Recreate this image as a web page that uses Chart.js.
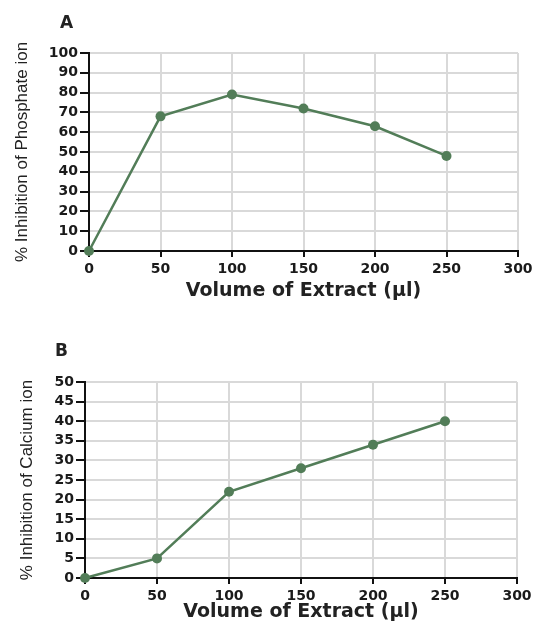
<!DOCTYPE html>
<html>
<head>
<meta charset="utf-8">
<script src="https://cdn.jsdelivr.net/npm/chart.js@4/dist/chart.umd.min.js"></script>
<style>
  body { margin: 0; background: #fff; }
  .panel { position: absolute; left: 0; width: 537px; }
  .tag { position: absolute; font: bold 17px "DejaVu Sans", sans-serif; color: #222; line-height: 20px; }
</style>
</head>
<body>
<div class="panel" style="top:0;height:310px"><canvas id="chartA" width="537" height="310"></canvas></div>
<div class="panel" style="top:320px;height:305px"><canvas id="chartB" width="537" height="305"></canvas></div>
<div class="tag" style="left:60px;top:12px">A</div>
<div class="tag" style="left:55px;top:340px">B</div>
<script>
// values
const volumes = [0, 50, 100, 150, 200, 250];
const phosphateInhibition = [0, 68, 79, 72, 63, 48];
const calciumInhibition = [0, 5, 22, 28, 34, 40];

const lineColor = "#527d58";
const tickFont = { family: "DejaVu Sans", weight: "bold", size: 14 };

function makeChart(id, values, yMax, yStep, yTitle, box) {
  const points = volumes.map((v, i) => ({ x: v, y: values[i] }));
  return new Chart(document.getElementById(id), {
    type: "line",
    data: {
      datasets: [{
        data: points,
        borderColor: lineColor,
        backgroundColor: lineColor,
        borderWidth: 2.5,
        pointRadius: 5,
        pointBorderWidth: 0,
        tension: 0,
        clip: false,
      }],
    },
    options: {
      responsive: false,
      animation: false,
      layout: { padding: { top: box.top, right: box.right, bottom: 0, left: 0 } },
      plugins: { legend: { display: false }, tooltip: { enabled: false } },
      scales: {
        x: {
          type: "linear",
          min: 0,
          max: 300,
          afterFit: (s) => { s.height = box.xHeight; },
          ticks: { stepSize: 50, autoSkip: false, maxRotation: 0, padding: 4, color: "#1a1a1a", font: tickFont },
          grid: { color: "#d9d9d9", lineWidth: 2, tickColor: "#111", tickLength: 6 },
          border: { color: "#111", width: 2 },
          title: {
            display: true,
            text: "Volume of Extract (\u00b5l)",
            color: "#222",
            font: { family: "DejaVu Sans", weight: "bold", size: 19 },
            padding: { top: 0, bottom: box.xTitlePad },
          },
        },
        y: {
          min: 0,
          max: yMax,
          afterFit: (s) => { s.width = box.left; },
          ticks: { stepSize: yStep, autoSkip: false, padding: 2, color: "#1a1a1a", font: tickFont },
          grid: { color: "#d9d9d9", lineWidth: 2, tickColor: "#111", tickLength: 9 },
          border: { color: "#111", width: 2 },
          title: {
            display: true,
            text: yTitle,
            color: "#222",
            font: { family: "Liberation Sans", size: 17 },
            padding: { top: box.yTitlePad, bottom: 0 },
          },
        },
      },
    },
  });
}

makeChart("chartA", phosphateInhibition, 100, 10, "% Inhibition of Phosphate ion",
  { top: 53, right: 19, left: 89, xHeight: 59, xTitlePad: 8, yTitlePad: 12 });
makeChart("chartB", calciumInhibition, 50, 5, "% Inhibition of Calcium ion",
  { top: 62, right: 20, left: 85, xHeight: 47, xTitlePad: 2, yTitlePad: 17 });
</script>
</body>
</html>
